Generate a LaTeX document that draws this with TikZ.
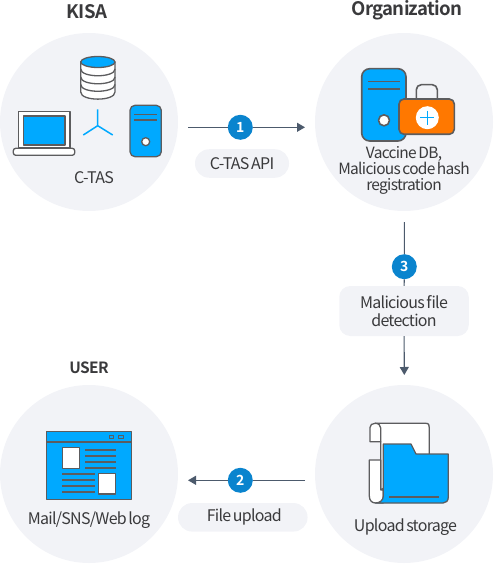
\documentclass[tikz,border=0pt]{standalone}
\usepackage{fontspec}
\setmainfont[LetterSpace=-4.5,WordSpace=0.55]{Noto Sans CJK KR}
\newfontfamily\headf[LetterSpace=-4]{Noto Sans CJK KR Bold}
\newfontfamily\badgef{Noto Sans CJK KR Bold}
\usetikzlibrary{arrows.meta}
\definecolor{bgc}{HTML}{F2F3F7}
\definecolor{sky}{HTML}{00A9FF}
\definecolor{stk}{HTML}{5C5C5E}
\definecolor{badgec}{HTML}{0A84CE}
\definecolor{linec}{HTML}{4C5A6C}
\definecolor{txt}{HTML}{3A3A3C}
\definecolor{org}{HTML}{FF7800}
\tikzset{
 disc/.style={circle,fill=bgc,minimum size=178pt,inner sep=0pt},
 pill/.style={fill=bgc,inner sep=0pt,align=center,text=txt,font=\fontsize{16}{18}\selectfont},
 badge/.style={circle,fill=badgec,minimum size=25pt,inner sep=0pt,text=white,font=\fontsize{14}{14}\badgef},
 lab/.style={inner sep=0pt,align=center,text=txt,font=\fontsize{16}{16}\selectfont},
 lab2/.style={lab,font=\fontsize{15.5}{16}\selectfont},
 head/.style={inner sep=0pt,text=txt,font=\fontsize{18.6}{19}\headf},
 headsm/.style={head,font=\fontsize{15.5}{16}\headf},
 ico/.style={draw=stk,line width=1.3pt,line join=round},
 icob/.style={draw=stk,line width=1.6pt,line join=round},
 conn/.style={draw=linec,line width=1.1pt},
 arr/.style={conn,-{Triangle[length=8pt,width=9pt,fill=linec]}}
}
\begin{document}
\begin{tikzpicture}[x=1pt,y=-1pt]
\useasboundingbox (0,0) rectangle (493,564);
% discs
\node[disc] (kisa) at (89,122) {};
\node[disc] (orgd) at (404,122) {};
\node[disc] (upl) at (404,474) {};
\node[disc] (usr) at (89,474) {};
% headers
\node[head] (hk) at (87,11.5) {KISA};
\node[head] (ho) at (407,10.5) {Organization};
\node[headsm] (hu) at (89,367.5) {USER};
% laptop
\draw[ico,fill=white] (18.3,111.7) rectangle (70,148);
\draw[ico,fill=sky] (23.3,116) rectangle (65,145);
\draw[ico,fill=white,rounded corners=2.5pt] (13.3,148.3) -- (74.7,148.3) -- (74.7,155.3) -- (13.3,155.3) -- cycle;
% database
\draw[ico,fill=white] (80.7,62) -- (80.7,92) .. controls (80.7,101.5) and (115,101.5) .. (115,92) -- (115,62) -- cycle;
\draw[ico] (80.7,69) .. controls (80.7,78) and (115,78) .. (115,69);
\draw[ico] (80.7,77) .. controls (80.7,86) and (115,86) .. (115,77);
\draw[ico] (80.7,84.5) .. controls (80.7,93.5) and (115,93.5) .. (115,84.5);
\draw[ico,fill=sky] (97.85,62) ellipse[x radius=17.15,y radius=5.5];
% tri
\draw[draw=sky,line width=1.5pt] (97.7,109.3) -- (97.7,125.7) (83.3,135) -- (97.7,125.7) -- (112.7,135);
% server small
\draw[ico,fill=sky,rounded corners=5pt] (130,105.3) rectangle (161.3,156.7);
\draw[ico] (134.3,114.3) -- (156.7,114.3) (134.3,120) -- (156.7,120);
\draw[ico,fill=white] (145.7,141.7) circle (4);
\node[lab] (t1) at (94,177.5) {C-TAS};
% org server
\draw[icob,fill=sky,rounded corners=8pt] (361.7,68.7) rectangle (406,141);
\draw[icob] (368.3,81.7) -- (399.7,81.7) (368.3,89.3) -- (399.7,89.3);
\draw[icob,fill=white] (384,120.3) circle (5.5);
% case
\draw[icob,rounded corners=5pt] (416.3,100) -- (416.3,84.7) -- (437.3,84.7) -- (437.3,100);
\draw[icob,fill=org,rounded corners=5pt] (399,99) rectangle (454.3,134.3);
\fill[white] (427.3,117.7) circle (11.5);
\draw[draw=sky,line width=1.5pt] (420.3,117.7) -- (434.3,117.7) (427.3,110.7) -- (427.3,124.7);
\node[lab2] (t2) at (404,170.5) {Vaccine DB,\\Malicious code hash\\registration};
% upload icon
\draw[ico,fill=white] (375,423.3) -- (425.7,423.3) .. controls (429,423.3) and (429.3,425) .. (429.3,428) -- (429.3,460) -- (380.7,490) -- (380.7,441.7) -- (370,441.7) -- (370,427.5) .. controls (370,425) and (372,423.3) .. (375,423.3) -- cycle;
\draw[ico] (375,423.3) .. controls (378.5,423.3) and (380.7,425) .. (380.7,428) -- (380.7,442);
\draw[ico,fill=white] (380.7,460) -- (369.3,460) -- (369.3,496) .. controls (369.3,500.5) and (372,503) .. (375.5,503) -- (383.3,503) -- (383.3,490) -- (380.7,490) -- cycle;
\draw[ico,fill=sky] (383.3,444) -- (411,444) -- (416,454) -- (448.3,454) -- (448.3,497) .. controls (448.3,501) and (446,503) .. (443,503) -- (375.5,503) .. controls (380,503) and (383.3,500) .. (383.3,496) -- cycle;
\draw[ico] (389.3,497) -- (439.3,497);
\node[lab] (t3) at (405.5,527) {Upload storage};
% window icon
\draw[ico,fill=sky] (46.7,431.7) rectangle (131.3,499.3);
\draw[ico] (46.7,442) -- (131.3,442);
\draw[ico,line width=1pt] (109,435.3) rectangle (113.7,438.7) (118.3,435.3) rectangle (123,438.7);
\draw[ico,fill=white] (62.7,447.7) rectangle (79.7,468.3);
\draw[ico,fill=white] (98.7,473.7) rectangle (115.7,494);
\draw[ico] (85.3,450) -- (116,450) (85.3,456) -- (116,456) (85.3,462) -- (116,462) (85.3,468) -- (116,468);
\draw[ico] (62.3,474) -- (95,474) (62.3,480) -- (95,480) (62.3,486) -- (95,486) (62.3,492) -- (95,492);
\node[lab] (t4) at (89,520.5) {Mail/SNS/Web log};
% connectors
\coordinate (a1s) at (188,127.3);
\coordinate (a1e) at (305,127.3);
\coordinate (a3s) at (404.3,222);
\coordinate (a3e) at (404.3,375);
\coordinate (a2s) at (305,480.3);
\coordinate (a2e) at (188,480.3);
\node[badge] (b1) at (240.3,127.3) {1};
\node[badge] (b3) at (404.3,266.7) {3};
\node[badge] (b2) at (240.3,480.3) {2};
\node[pill,rounded corners=14pt,minimum width=94pt,minimum height=28.5pt] (p1) at (242,163.5) {C-TAS API};
\node[pill,rounded corners=11pt,minimum width=129.5pt,minimum height=50pt] (p3) at (404,311) {Malicious file\\detection};
\node[pill,rounded corners=14pt,minimum width=129.5pt,minimum height=28.5pt] (p2) at (242.8,517.3) {\hspace{3pt}File upload};
\draw[arr] (a1s) -- (b1) -- (a1e);
\draw[conn] (a3s) -- (b3) -- (p3);
\draw[arr] (p3) -- (a3e);
\draw[arr] (a2s) -- (b2) -- (a2e);
\end{tikzpicture}
\end{document}
